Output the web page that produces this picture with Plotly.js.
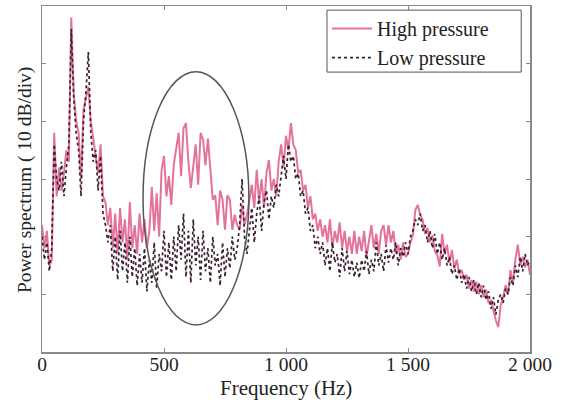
<!DOCTYPE html>
<html><head><meta charset="utf-8">
<script src="https://cdn.plot.ly/plotly-3.0.1.min.js"></script>
<style>html,body{margin:0;padding:0;background:#fff}#chart{width:564px;height:400px}</style>
</head><body><div id="chart"></div>
<script>
// Frequency grid (Hz), 10 Hz step
const freqStart = 0, freqStep = 10;
const highPressure = [
22,18,21,15,16,38,27,32,28,31,35,33,58,45,40,38,30,42,44,46,
40,37,34,31,36,27,26,22,25,18,24,17,25,19,23,16,26,18,22,17,
24,19,23,18,21,28.6,21,27.5,20,31.5,34,27,30.5,25.5,32.5,35,38,30.5,38.8,39.7,
33,28.4,32.5,36,29,38,36.8,32.4,37,32.4,26.4,27.2,22,28,26.4,21.2,27.2,26.4,21.2,23.8,
22,21.2,25.5,22,23.8,26.4,29,25,31.6,26,30,25,31,33.3,28,30,27,33,36,32,
37.5,35,39.7,36,35,31,31.6,28,29,25,27,23,24,21,23,20,22,19,23,18,
21,19,22.5,18,21,17.5,20,17,21,17,20,17.5,21,16.5,19,22,18,20.5,17,21,
22,18.5,22,19,21,17,18.6,16,19,16.5,17,19,20.3,24.6,25.5,23.8,22.9,20.5,21.5,19,
20.3,17.5,16.8,14.8,20.5,17,18.6,15.5,17.7,14.5,16,13.5,14.2,12.5,13.4,11,12.5,10.5,12.2,10,
11.6,9.5,10.8,8.5,9,7,5.5,4.3,8.1,9.5,11.6,10,14.2,12,16,18.6,15.1,16.5,14.7,16,
13.4
];
const lowPressure = [
20,16,19,14,18,36,30,28,33,27,32,36,56,44,38,35,27,40,45,52,
38,33,35,28,34,24,22,19,22,14,20,12.5,21,14,19,12,20,13,18,11.5,
17,12,18,10.5,16,12,19,11,17,14,21,13,19,12.5,20,14,22,16,24,13,
21,12,23,15,20,12.5,21,14,18,12,20,15,17,11.5,19,13,18,14.5,20,16,
18,22,30,20,17,21,25,19,24,27,21,26,28,23,27,25,29,27,31,34,
30,36,33,34,30,31,27,28,24,25,21,22,18,20,17,19,15,18,14,19,
15.5,17,13,18,14,17.5,13.5,16,13,15.5,12.8,16,14,17.5,13.5,16,14,19,15,17,
14,18.5,15.5,18,16,19,15,18,16.5,19,17,20,21,23,22,24,21,22,19,21,
18,20.5,17,19,16,18,15,16.5,13.5,15,12.5,14.5,12,13.5,11,13,10.5,12.5,10,12,
9.5,11.5,9,10.5,7.5,9.5,6.5,9,10,8.5,11,10,13,11.5,15,13,16.5,14,17,15,
16
];
const tickVals = [0, 500, 1000, 1500, 2000];
const tickText = ["0", "500", "1 000", "1 500", "2 000"];
const xTitle = 'Frequency (Hz)';
const yTitle = 'Power spectrum ( 10 dB/div)';
const ellipseFreq = [414, 848];
const ellipseLevel = [4.7, 48.6];

const freqs = highPressure.map((_, i) => freqStart + i * freqStep);

const traces = [
  {x: freqs, y: highPressure, type: 'scatter', mode: 'lines', name: 'High pressure',
   line: {color: '#e3739c', width: 2}},
  {x: freqs, y: lowPressure, type: 'scatter', mode: 'lines', name: 'Low pressure',
   line: {color: '#3a1f30', width: 1.7, dash: 'dot'}}
];

const fam = '"Liberation Serif", "Times New Roman", serif';
const tickFont = {family: fam, size: 19.5, color: '#222'};
const titleFont = {family: fam, size: 20, color: '#222'};

const layout = {
  width: 564, height: 400,
  margin: {l: 42, r: 34, t: 6, b: 48},
  paper_bgcolor: '#fff', plot_bgcolor: '#fff',
  font: titleFont,
  showlegend: true,
  legend: {x: 0.584, y: 0.991, xanchor: 'left', yanchor: 'top',
           borderwidth: 0, bgcolor: 'rgba(0,0,0,0)',
           font: {family: fam, size: 20, color: '#222'}, tracegroupgap: 0, itemwidth: 40},
  xaxis: {range: [0, 2000], tickvals: tickVals, ticktext: tickText,
          ticks: 'inside', ticklen: 4, tickcolor: '#888',
          showline: true, linecolor: '#888', linewidth: 1.5, mirror: 'ticks',
          showgrid: false, zeroline: false, automargin: false,
          tickfont: tickFont, ticklabelstandoff: -6},
  yaxis: {range: [0, 60], dtick: 10, tick0: 0,
          ticks: 'inside', ticklen: 4, tickcolor: '#888',
          showticklabels: false, automargin: false,
          showline: true, linecolor: '#888', linewidth: 1.5, mirror: 'ticks',
          showgrid: false, zeroline: false},
  annotations: [
    {text: xTitle, xref: 'paper', yref: 'paper', x: 0.5, y: -0.104,
     xanchor: 'center', yanchor: 'middle', showarrow: false, font: {family: fam, size: 21, color: '#222'}},
    {text: yTitle, xref: 'paper', yref: 'paper', x: -0.0348, y: 0.497, textangle: -90,
     xanchor: 'center', yanchor: 'middle', showarrow: false, font: {family: fam, size: 19.5, color: '#222'}}
  ],
  shapes: [
    {type: 'circle', xref: 'x', yref: 'y',
     x0: ellipseFreq[0], x1: ellipseFreq[1], y0: ellipseLevel[0], y1: ellipseLevel[1],
     line: {color: '#555', width: 1.5}},
    {type: 'rect', xref: 'paper', yref: 'paper', layer: 'above',
     x0: 0.584, x1: 0.982, y0: 0.809, y1: 0.988,
     line: {color: '#555', width: 1}, fillcolor: 'rgba(0,0,0,0)'}
  ]
};

Plotly.newPlot('chart', traces, layout, {staticPlot: true, displayModeBar: false});
</script>
</body></html>
